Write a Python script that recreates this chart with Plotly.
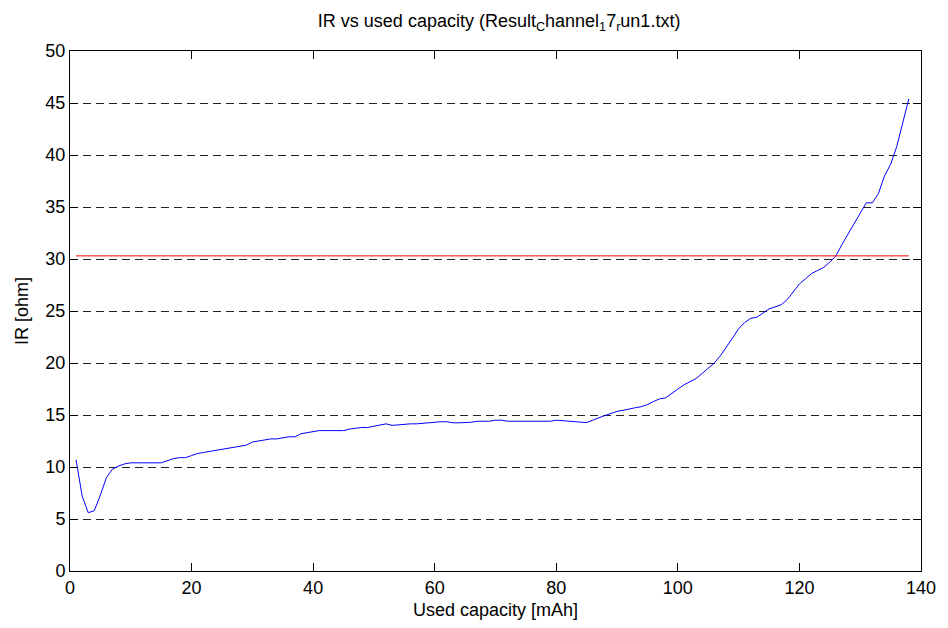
import plotly.graph_objects as go

# Used capacity [mAh]
capacity = [
    1, 2, 3, 4, 5, 6, 7, 8, 9, 10,
    11, 12, 13, 14, 15, 16, 17, 18, 19, 20,
    21, 22, 23, 24, 25, 26, 27, 28, 29, 30,
    31, 32, 33, 34, 35, 36, 37, 38, 39, 40,
    41, 42, 43, 44, 45, 46, 47, 48, 49, 50,
    51, 52, 53, 54, 55, 56, 57, 58, 59, 60,
    61, 62, 63, 64, 65, 66, 67, 68, 69, 70,
    71, 72, 73, 74, 75, 76, 77, 78, 79, 80,
    81, 82, 83, 84, 85, 86, 87, 88, 89, 90,
    91, 92, 93, 94, 95, 96, 97, 98, 99, 100,
    101, 102, 103, 104, 105, 106, 107, 108, 109, 110,
    111, 112, 113, 114, 115, 116, 117, 118, 119, 120,
    121, 122, 123, 124, 125, 126, 127, 128, 129, 130,
    131, 132, 133, 134, 135, 136, 137, 138,
]

# IR [ohm]
ir_ohm = [
    10.7, 7.2, 5.6, 5.8, 7.3, 9.0, 9.8, 10.1, 10.3, 10.4,
    10.4, 10.4, 10.4, 10.4, 10.4, 10.6, 10.8, 10.9, 10.9, 11.1,
    11.3, 11.4, 11.5, 11.6, 11.7, 11.8, 11.9, 12.0, 12.1, 12.4,
    12.5, 12.6, 12.7, 12.7, 12.8, 12.9, 12.9, 13.2, 13.3, 13.4,
    13.5, 13.5, 13.5, 13.5, 13.5, 13.65, 13.75, 13.8, 13.8, 13.9,
    14.0, 14.15, 14.0, 14.05, 14.15, 14.15, 14.15, 14.2, 14.3, 14.35,
    14.35, 14.35, 14.25, 14.25, 14.25, 14.3, 14.4, 14.4, 14.4, 14.5,
    14.5, 14.4, 14.4, 14.4, 14.4, 14.4, 14.4, 14.4, 14.4, 14.5,
    14.45, 14.4, 14.4, 14.3, 14.27, 14.5, 14.75, 14.95, 15.15, 15.35,
    15.45, 15.6, 15.7, 15.8, 16.0, 16.3, 16.55, 16.65, 17.1, 17.5,
    17.9, 18.2, 18.5, 19.0, 19.5, 20.0, 20.7, 21.5, 22.4, 23.3,
    23.9, 24.3, 24.4, 24.8, 25.2, 25.4, 25.6, 26.1, 26.9, 27.6,
    28.1, 28.6, 28.9, 29.2, 29.7, 30.3, 31.4, 32.4, 33.4, 34.4,
    35.4, 35.4, 36.3, 38.0, 39.1, 40.8, 43.0, 45.4,
]

# Horizontal limit line
limit_x = [1, 138]
limit_y = [30.3, 30.3]

x_ticks = [0, 20, 40, 60, 80, 100, 120, 140]
y_ticks = [0, 5, 10, 15, 20, 25, 30, 35, 40, 45, 50]

title_text = "IR vs used capacity (Result<sub>C</sub>hannel<sub>1</sub>7<sub>r</sub>un1.txt)"

FONT = "Liberation Sans, Arial, Helvetica, sans-serif"

fig = go.Figure()
fig.add_trace(go.Scatter(x=capacity, y=ir_ohm, mode="lines",
                         line=dict(color="#0000ff", width=1), showlegend=False))
fig.add_trace(go.Scatter(x=limit_x, y=limit_y, mode="lines",
                         line=dict(color="#ff0000", width=1), showlegend=False))

fig.update_layout(
    width=948, height=628,
    margin=dict(l=70, r=20, t=51, b=56),
    paper_bgcolor="white", plot_bgcolor="white",
    font=dict(family=FONT, size=18, color="black"),
    title=dict(text=title_text, x=0.5265, xanchor="center",
               xref="container", yref="container",
               y=1 - 21 / 628, yanchor="middle",
               font=dict(family=FONT, size=18, color="black")),
)
fig.update_xaxes(
    range=[0, 140], tickvals=x_ticks, ticktext=[str(v) for v in x_ticks],
    showgrid=False, zeroline=False,
    showline=True, linecolor="black", linewidth=1, mirror="ticks",
    ticks="inside", ticklen=8, tickcolor="black", tickwidth=1,
    tickfont=dict(family=FONT, size=18, color="black"),
    title=dict(text="Used capacity [mAh]", standoff=6,
               font=dict(family=FONT, size=18, color="black")),
)
fig.update_yaxes(
    range=[0, 50], tickvals=y_ticks, ticktext=[str(v) for v in y_ticks],
    showgrid=True, gridcolor="#222222", gridwidth=1, griddash="8px,5px",
    zeroline=False,
    showline=True, linecolor="black", linewidth=1, mirror="ticks",
    ticks="inside", ticklen=8, tickcolor="black", tickwidth=1,
    tickfont=dict(family=FONT, size=18, color="black"),
    title=dict(text="IR [ohm]", standoff=12,
               font=dict(family=FONT, size=18, color="black")),
)

fig.write_html("out.html")
